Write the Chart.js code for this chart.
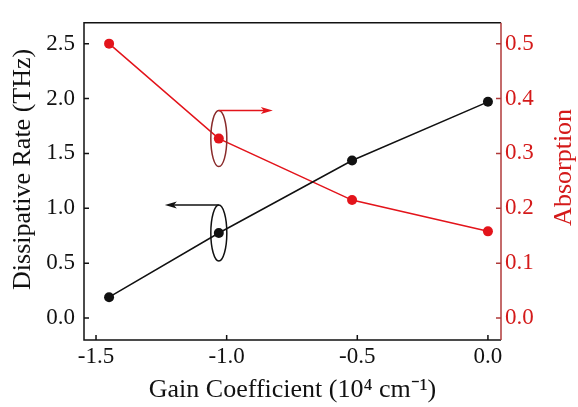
<!DOCTYPE html>
<html>
<head>
<meta charset="utf-8">
<script src="https://cdn.jsdelivr.net/npm/chart.js@4.4.1/dist/chart.umd.min.js"></script>
<style>
  html, body { margin: 0; padding: 0; background: #fff; }
  #wrap { width: 578px; height: 407px; }
</style>
</head>
<body>
<div id="wrap"><canvas id="chart" width="578" height="407"></canvas></div>
<script>
"use strict"

// values
const gain = [-1.45, -1.03, -0.52, 0.0];
const dissipative = [0.19, 0.775, 1.435, 1.97];
const absorption = [0.5, 0.327, 0.215, 0.158];
const xTicks = [-1.5, -1.0, -0.5, 0.0];
const leftTicks = [0.0, 0.5, 1.0, 1.5, 2.0, 2.5];
const rightTicks = [0.0, 0.1, 0.2, 0.3, 0.4, 0.5];
const leftTitle = 'Dissipative Rate (THz)';
const rightTitle = 'Absorption';

const BLACK = '#111111';
const RED = '#e3141b';
const RED_TEXT = '#d41a1a';
const RED_AXIS = '#b03a3a';
const FONT = 'Liberation Serif, Times New Roman, serif';

let pts = function (xs, ys) {
    return xs.map((x, i) => ({ x: x, y: ys[i] }));
};

// frame, inner ticks, ellipses and arrows, y titles (both read bottom to top)
let decor = {
    id: 'decor',
    afterDraw(chart) {
        const ctx = chart.ctx;
        const a = chart.chartArea;
        const sx = chart.scales.x, sl = chart.scales.yL, sr = chart.scales.yR;
        ctx.save();
        ctx.lineWidth = 1.5;
        // frame
        ctx.strokeStyle = BLACK;
        ctx.beginPath();
        ctx.moveTo(a.right, a.top); ctx.lineTo(a.left, a.top);
        ctx.lineTo(a.left, a.bottom); ctx.lineTo(a.right, a.bottom);
        ctx.stroke();
        ctx.strokeStyle = RED_AXIS;
        ctx.beginPath();
        ctx.moveTo(a.right, a.top); ctx.lineTo(a.right, a.bottom);
        ctx.stroke();

        // inner ticks
        const tl = 5;
        ctx.strokeStyle = BLACK;
        ctx.beginPath();
        xTicks.forEach(v => {
            let px = sx.getPixelForValue(v);
            ctx.moveTo(px, a.bottom); ctx.lineTo(px, a.bottom - tl);
        });
        leftTicks.forEach(v => {
            let py = sl.getPixelForValue(v);
            ctx.moveTo(a.left, py); ctx.lineTo(a.left + tl, py);
        });
        ctx.stroke();
        ctx.strokeStyle = RED_AXIS;
        ctx.beginPath();
        rightTicks.forEach(v => {
            let py = sr.getPixelForValue(v);
            ctx.moveTo(a.right, py); ctx.lineTo(a.right - tl, py);
        });
        ctx.stroke();

        // ellipse + arrow marking which axis each curve belongs to
        let mark = function (cx, cy, color, ring, dir) {
            const rx = 8, ry = 28, len = 54;
            ctx.strokeStyle = ring;
            ctx.lineWidth = 1.5;
            ctx.beginPath();
            ctx.ellipse(cx, cy, rx, ry, 0, 0, Math.PI * 2);
            ctx.stroke();
            let y0 = cy - ry;
            let tip = cx + dir * len;
            ctx.strokeStyle = color;
            ctx.fillStyle = color;
            ctx.beginPath();
            ctx.moveTo(cx, y0); ctx.lineTo(tip - dir * 8, y0);
            ctx.stroke();
            ctx.beginPath();
            ctx.moveTo(tip, y0);
            ctx.lineTo(tip - dir * 12, y0 - 3.5);
            ctx.lineTo(tip - dir * 9, y0);
            ctx.lineTo(tip - dir * 12, y0 + 3.5);
            ctx.closePath();
            ctx.fill();
        };
        mark(sx.getPixelForValue(gain[1]), sr.getPixelForValue(absorption[1]), RED, '#8a2b2b', 1);
        mark(sx.getPixelForValue(gain[1]), sl.getPixelForValue(dissipative[1]), BLACK, BLACK, -1);

        // y axis titles
        let vtext = function (text, x, y, color, size) {
            ctx.save();
            ctx.translate(x, y);
            ctx.rotate(-Math.PI / 2);
            ctx.fillStyle = color;
            ctx.font = size + 'px ' + FONT;
            ctx.textAlign = 'center';
            ctx.textBaseline = 'middle';
            ctx.fillText(text, 0, 0);
            ctx.restore();
        };
        const mid = (a.top + a.bottom) / 2;
        vtext(leftTitle, sl.left + 23, mid - 12, BLACK, 26);
        vtext(rightTitle, sr.right - 14, mid - 14, RED_TEXT, 26);
        ctx.restore();
    }
};

const ctx = document.getElementById('chart').getContext('2d');
let chart = new Chart(ctx, {
    type: 'line',
    data: {
        datasets: [{
            label: 'Dissipative Rate',
            data: pts(gain, dissipative),
            yAxisID: 'yL',
            borderColor: BLACK,
            backgroundColor: BLACK,
            borderWidth: 1.5,
            pointRadius: 5,
            pointBorderWidth: 0,
            tension: 0
        }, {
            label: 'Absorption',
            data: pts(gain, absorption),
            yAxisID: 'yR',
            borderColor: RED,
            backgroundColor: RED,
            borderWidth: 1.5,
            pointRadius: 5,
            pointBorderWidth: 0,
            tension: 0
        }]
    },
    options: {
        responsive: false,
        animation: false,
        layout: { padding: { top: 11, left: 0, right: 0, bottom: 0 } },
        plugins: { legend: { display: false }, tooltip: { enabled: false } },
        scales: {
            x: {
                type: 'linear',
                min: -1.546, max: 0.05,
                afterFit(s) { s.height = 67; },
                afterBuildTicks(s) { s.ticks = xTicks.map(v => ({ value: v })); },
                grid: { display: false, drawTicks: false },
                border: { display: false },
                ticks: {
                    padding: 3, color: BLACK,
                    font: { family: FONT, size: 23 },
                    callback: v => v.toFixed(1)
                },
                title: {
                    display: true, text: 'Gain Coefficient (10\u2074 cm\u207B\u00B9)',
                    color: BLACK, font: { family: FONT, size: 26 },
                    padding: { top: 0, bottom: 1 }
                }
            },
            yL: {
                position: 'left',
                min: -0.2, max: 2.69,
                afterFit(s) { s.width = 84; },
                afterBuildTicks(s) { s.ticks = leftTicks.map(v => ({ value: v })); },
                grid: { display: false, drawTicks: false },
                border: { display: false },
                ticks: {
                    padding: 9, color: BLACK,
                    font: { family: FONT, size: 23 },
                    callback: v => v.toFixed(1)
                }
            },
            yR: {
                position: 'right',
                min: -0.04, max: 0.538,
                afterFit(s) { s.width = 77; },
                afterBuildTicks(s) { s.ticks = rightTicks.map(v => ({ value: v })); },
                grid: { display: false, drawTicks: false },
                border: { display: false },
                ticks: {
                    padding: 4, color: RED_TEXT,
                    font: { family: FONT, size: 23 },
                    callback: v => v.toFixed(1)
                }
            }
        }
    },
    plugins: [decor]
});
</script>
</body>
</html>
